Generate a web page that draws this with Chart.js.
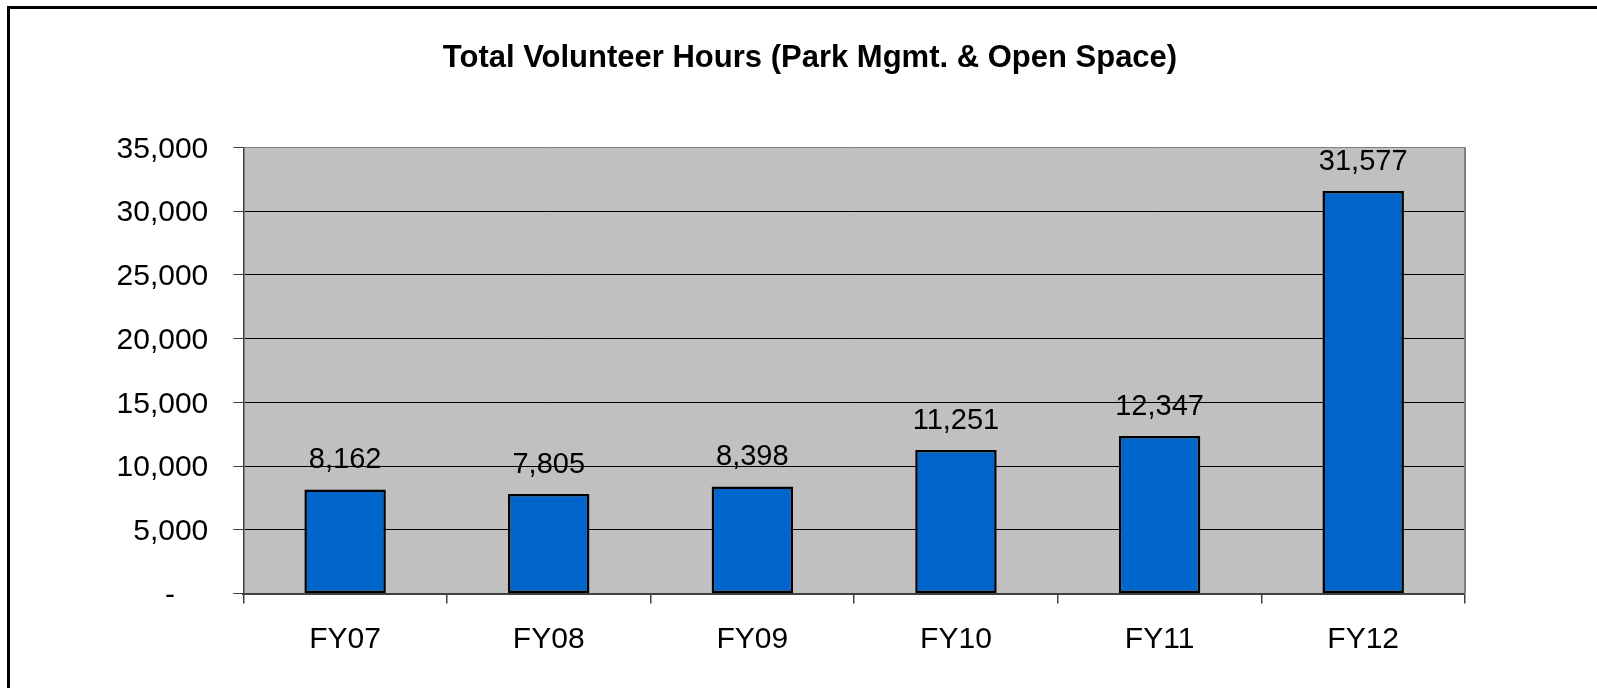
<!DOCTYPE html>
<html>
<head>
<meta charset="utf-8">
<script src="https://cdn.jsdelivr.net/npm/chart.js@4"></script>
<style>
  html, body { margin: 0; padding: 0; background: #fff; }
  canvas { display: block; }
</style>
</head>
<body>
<canvas id="c" width="1597" height="688"></canvas>
<script>
const categories = ['FY07', 'FY08', 'FY09', 'FY10', 'FY11', 'FY12'];
const volunteerHours = [8162, 7805, 8398, 11251, 12347, 31577];
const yTicks = [0, 5000, 10000, 15000, 20000, 25000, 30000, 35000];
const chartTitle = 'Total Volunteer Hours (Park Mgmt. & Open Space)';

const FONT = "'Liberation Sans', Arial, sans-serif";
function fmt(v) {
  if (v === 0) return '-    ';
  return String(v).replace(/\B(?=(\d{3})+(?!\d))/g, ',');
}

const framePlugin = {
  id: 'frame',
  beforeDraw(chart) {
    const { ctx, chartArea: a } = chart;
    ctx.save();
    ctx.fillStyle = '#fff';
    ctx.fillRect(0, 0, chart.width, chart.height);
    ctx.fillStyle = '#c0c0c0';
    ctx.fillRect(a.left, a.top, a.right - a.left, a.bottom - a.top);
    ctx.fillStyle = '#000';
    ctx.fillRect(7, 6, 3, chart.height);
    ctx.fillRect(7, 6, chart.width, 3);
    ctx.restore();
  },
  afterDraw(chart) {
    const { ctx, chartArea: a } = chart;
    ctx.save();
    ctx.strokeStyle = '#808080';
    ctx.lineWidth = 2;
    ctx.beginPath();
    ctx.moveTo(a.right, a.top);
    ctx.lineTo(a.right, a.bottom);
    ctx.stroke();
    ctx.restore();
  }
};

const valueLabels = {
  id: 'valueLabels',
  afterDatasetsDraw(chart) {
    const { ctx } = chart;
    const meta = chart.getDatasetMeta(0);
    ctx.save();
    ctx.font = '29px ' + FONT;
    ctx.fillStyle = '#000';
    ctx.textAlign = 'center';
    ctx.textBaseline = 'alphabetic';
    meta.data.forEach((bar, i) => {
      ctx.fillText(fmt(chart.data.datasets[0].data[i]), bar.x, bar.y - 21);
    });
    ctx.restore();
  }
};

new Chart(document.getElementById('c'), {
  type: 'bar',
  data: {
    labels: categories,
    datasets: [{
      data: volunteerHours,
      backgroundColor: '#0066CC',
      borderColor: '#000',
      borderWidth: 2.5,
      borderSkipped: false,
      categoryPercentage: 1,
      barPercentage: 0.4
    }]
  },
  plugins: [framePlugin, valueLabels],
  options: {
    responsive: false,
    devicePixelRatio: 1,
    animation: false,
    layout: { padding: { left: 23, right: 0, top: 0, bottom: 0 } },
    plugins: {
      legend: { display: false },
      tooltip: { enabled: false },
      title: {
        display: true,
        text: chartTitle,
        color: '#000',
        font: { family: FONT, size: 31, weight: 'bold' },
        padding: { top: 40, bottom: 70.1 }
      }
    },
    scales: {
      x: {
        afterFit(scale) { scale.height = 94.5; },
        grid: {
          offset: true,
          drawOnChartArea: false,
          drawTicks: true,
          tickLength: 10,
          tickColor: '#404040',
          lineWidth: 1.5
        },
        border: { display: true, color: '#404040', width: 2 },
        ticks: {
          color: '#000',
          padding: 18,
          font: { family: FONT, size: 30 },
          maxRotation: 0
        }
      },
      y: {
        min: 0,
        max: 35000,
        afterFit(scale) { scale.width = 220.3; },
        afterBuildTicks(scale) { scale.ticks = yTicks.map(v => ({ value: v })); },
        grid: {
          color: ctx => (ctx.tick && ctx.tick.value === 35000) ? '#808080' : '#000',
          lineWidth: 1,
          drawTicks: true,
          tickLength: 10,
          tickColor: '#404040'
        },
        border: { display: true, color: '#404040', width: 1.5 },
        ticks: {
          color: '#000',
          padding: 25,
          labelOffset: 2,
          font: { family: FONT, size: 30 },
          callback: v => fmt(v)
        }
      },
      spacer: {
        type: 'linear',
        position: 'right',
        afterFit(scale) { scale.width = 132; },
        grid: { display: false },
        border: { display: false },
        ticks: { display: false }
      }
    }
  }
});
</script>
</body>
</html>
